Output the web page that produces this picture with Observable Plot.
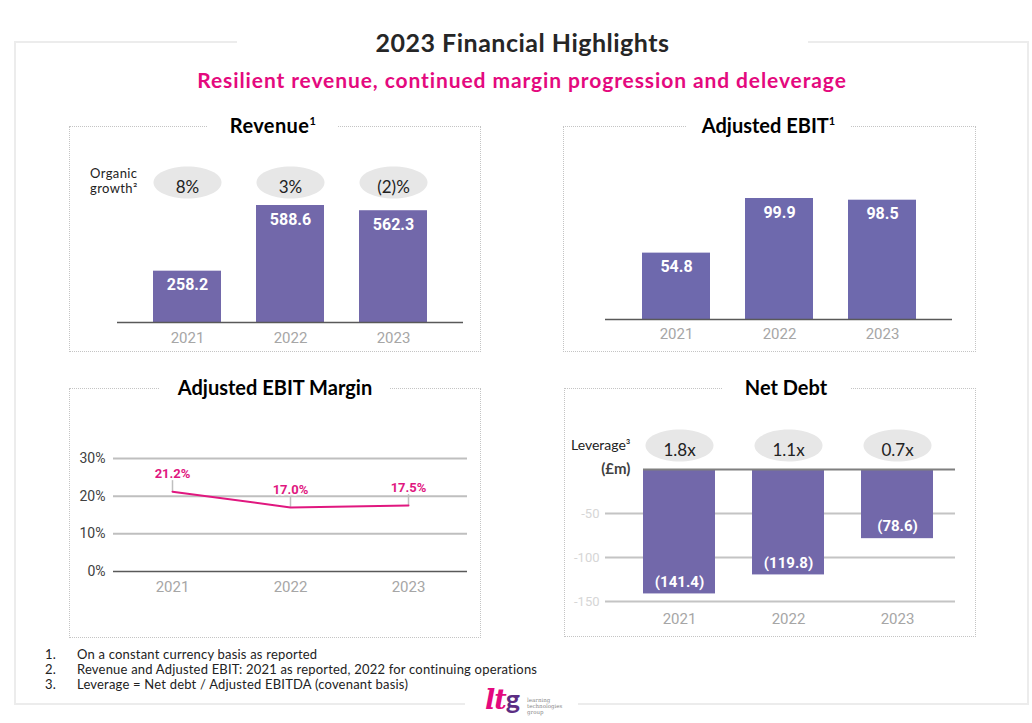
<!DOCTYPE html>
<html>
<head>
<meta charset="utf-8">
<script src="https://cdn.jsdelivr.net/npm/d3@7"></script>
<script src="https://cdn.jsdelivr.net/npm/@observablehq/plot@0.6"></script>
<style>
  body { margin: 0; background: #fff; }
  #page { position: relative; width: 1032px; height: 723px; overflow: hidden; font-family: Lato, "Noto Sans", sans-serif; color: #222; }
  .abs { position: absolute; }
  .frame { position: absolute; left: 14px; top: 41px; width: 1015px; height: 664px; box-sizing: border-box; border: 2px solid #ececec; }
  .panel { position: absolute; box-sizing: border-box; border: 1.5px dotted #c4c4c4; }
  .ptitle { position: absolute; background: #fff; text-align: center; font-weight: bold; font-size: 20px; color: #000; line-height: 24px; height: 24px; }
  .ptitle sup { font-size: 11px; vertical-align: 8px; line-height: 0; }
  .plot { position: absolute; }
  .plot svg { overflow: visible; }
  .note { position: absolute; font-size: 13px; line-height: 15px; color: #222; letter-spacing: 0.2px; white-space: nowrap; }
</style>
</head>
<body>
<div id="page">
  <div class="frame"></div>
  <div class="abs" style="left:237px;top:28px;width:571px;height:28px;background:#fff;text-align:center;font-weight:bold;font-size:25px;letter-spacing:0.5px;line-height:28px;color:#262626;">2023 Financial Highlights</div>
  <div class="abs" style="left:100px;top:67px;width:844px;height:26px;text-align:center;font-weight:bold;font-size:21px;letter-spacing:0.9px;line-height:26px;color:#e4097e;">Resilient revenue, continued margin progression and deleverage</div>

  <div class="panel" style="left:69px;top:126px;width:412px;height:226px;"></div>
  <div class="panel" style="left:563px;top:126px;width:413px;height:226px;"></div>
  <div class="panel" style="left:69px;top:388px;width:412px;height:250px;"></div>
  <div class="panel" style="left:564px;top:388px;width:412px;height:249px;"></div>

  <div class="ptitle" style="left:208px;top:113px;width:130px;letter-spacing:0.4px;">Revenue<sup>1</sup></div>
  <div class="ptitle" style="left:687px;top:113px;width:163px;">Adjusted EBIT<sup>1</sup></div>
  <div class="ptitle" style="left:160px;top:375px;width:230px;">Adjusted EBIT Margin</div>
  <div class="ptitle" style="left:722px;top:375px;width:128px;">Net Debt</div>

  <div id="rev" class="plot" style="left:69px;top:140px;"></div>
  <div id="ebit" class="plot" style="left:564px;top:140px;"></div>
  <div id="margin" class="plot" style="left:69px;top:400px;"></div>
  <div id="debt" class="plot" style="left:564px;top:400px;"></div>

  <div class="note" style="left:90px;top:166px;font-size:13px;line-height:14px;letter-spacing:0.4px;">Organic</div>
  <div class="note" style="left:90px;top:181px;font-size:13px;line-height:14px;letter-spacing:0.4px;">growth²</div>
  <div class="note" style="left:571px;top:437px;font-size:14px;letter-spacing:0;">Leverage³</div>

  <div id="notes"></div>

  <div class="abs" style="left:465px;top:700px;width:113px;height:8px;background:#fff;"></div>
  <div class="abs" style="left:485px;top:684px;font-family:'DejaVu Serif',serif;font-style:italic;font-weight:bold;font-size:27px;line-height:30px;color:#e4097e;letter-spacing:-1px;">lt<span style="font-family:Lato,sans-serif;font-style:normal;color:#5c2d83;">g</span></div>
  <div class="abs" style="left:527px;top:697px;font-family:'DejaVu Serif',serif;font-size:5.5px;line-height:6px;color:#888;">learning<br>technologies<br>group</div>
</div>
<script>
// ---------- data ----------
const years = ["2021", "2022", "2023"];
const revenue = [258.2, 588.6, 562.3];
const organicGrowth = ["8%", "3%", "(2)%"];
const adjustedEbit = [54.8, 99.9, 98.5];
const ebitMargin = [21.2, 17.0, 17.5];
const netDebt = [-141.4, -119.8, -78.6];
const leverage = ["1.8x", "1.1x", "0.7x"];
const marginTicks = [0, 10, 20, 30];
const debtTicks = [-50, -100, -150];
const footnotes = [
  "On a constant currency basis as reported",
  "Revenue and Adjusted EBIT: 2021 as reported, 2022 for continuing operations",
  "Leverage = Net debt / Adjusted EBITDA (covenant basis)"
];

// ---------- helpers ----------
const ellipse = (rx, ry) => ({
  draw(ctx) {
    const k = 0.5523;
    ctx.moveTo(-rx, 0);
    ctx.bezierCurveTo(-rx, -ry * k, -rx * k, -ry, 0, -ry);
    ctx.bezierCurveTo(rx * k, -ry, rx, -ry * k, rx, 0);
    ctx.bezierCurveTo(rx, ry * k, rx * k, ry, 0, ry);
    ctx.bezierCurveTo(-rx * k, ry, -rx, ry * k, -rx, 0);
    ctx.closePath();
  }
});
const BAR = "#7268aa";
const YEAR_GRAY = "#a6a6a6";
const baseStyle = { fontFamily: "Roboto, sans-serif", background: "transparent", overflow: "visible" };

// ---------- Revenue ----------
const revData = years.map((y, i) => ({ year: y, value: revenue[i], growth: organicGrowth[i] }));
document.getElementById("rev").append(Plot.plot({
  width: 411, height: 210,
  marginLeft: 48, marginRight: 17, marginTop: 65, marginBottom: 28,
  style: baseStyle,
  x: { domain: years, range: [66, 376], paddingInner: 0.34, paddingOuter: 0.17, label: null },
  y: { domain: [0, d3.max(revenue)], axis: null },
  marks: [
    Plot.dot(revData, { x: "year", frameAnchor: "top", dy: -23, symbol: ellipse(34, 16), fill: "#e7e7e7", stroke: null }),
    Plot.text(revData, { x: "year", frameAnchor: "top", dy: -25, text: "growth", fontSize: 17, fill: "#222", fontFamily: "Lato, sans-serif" }),
    Plot.barY(revData, { x: "year", y: "value", fill: BAR }),
    Plot.text(revData, { x: "year", y: "value", dy: 14, text: d => d.value.toFixed(1), fill: "white", fontWeight: "bold", fontSize: 16 }),
    Plot.ruleY([0], { stroke: "#595959", strokeWidth: 1.5 }),
    Plot.axisX({ tickSize: 0, tickPadding: 10, fontSize: 15, color: YEAR_GRAY, label: null })
  ]
}));

// ---------- Adjusted EBIT ----------
const ebitData = years.map((y, i) => ({ year: y, value: adjustedEbit[i] }));
document.getElementById("ebit").append(Plot.plot({
  width: 411, height: 210,
  marginLeft: 41, marginRight: 23, marginTop: 58, marginBottom: 31,
  style: baseStyle,
  x: { domain: years, range: [59, 370], paddingInner: 0.34, paddingOuter: 0.17, label: null },
  y: { domain: [0, d3.max(adjustedEbit)], axis: null },
  marks: [
    Plot.barY(ebitData, { x: "year", y: "value", fill: "#6e69ad" }),
    Plot.text(ebitData, { x: "year", y: "value", dy: 14, text: d => d.value.toFixed(1), fill: "white", fontWeight: "bold", fontSize: 16 }),
    Plot.ruleY([0], { stroke: "#595959", strokeWidth: 1.5 }),
    Plot.axisX({ tickSize: 0, tickPadding: 9, fontSize: 15, color: YEAR_GRAY, label: null })
  ]
}));

// ---------- Adjusted EBIT Margin ----------
const marginData = years.map((y, i) => ({ year: y, value: ebitMargin[i] }));
const PINK = "#e0177f";
document.getElementById("margin").append(Plot.plot({
  width: 411, height: 236,
  marginLeft: 44, marginRight: 13, marginTop: 58, marginBottom: 65,
  style: baseStyle,
  x: { type: "point", domain: years, padding: 0.5, label: null },
  y: { domain: [0, 30], label: null },
  marks: [
    Plot.ruleY(marginTicks.filter(d => d !== 0), { stroke: "#bfbfbf", strokeWidth: 2 }),
    Plot.ruleY([0], { stroke: "#595959", strokeWidth: 1.5 }),
    Plot.axisY(marginTicks, { tickSize: 0, tickPadding: 8, tickFormat: d => d + "%", fontSize: 14, color: "#404040", label: null }),
    Plot.axisX({ tickSize: 0, tickPadding: 10, fontSize: 15, color: YEAR_GRAY, label: null }),
    Plot.ruleX(marginData, { x: "year", y1: "value", y2: "value", insetBottom: 11, stroke: "#bfbfbf", strokeWidth: 1.5 }),
    Plot.line(marginData, { x: "year", y: "value", stroke: PINK, strokeWidth: 2 }),
    Plot.text(marginData, { x: "year", y: "value", dy: -18, text: d => d.value.toFixed(1) + "%", fill: PINK, stroke: "white", strokeWidth: 3, fontWeight: "bold", fontSize: 13 })
  ]
}));

// ---------- Net Debt ----------
const debtData = years.map((y, i) => ({ year: y, value: netDebt[i], lev: leverage[i] }));
document.getElementById("debt").append(Plot.plot({
  width: 411, height: 236,
  marginLeft: 41, marginRight: 20, marginTop: 69, marginBottom: 35,
  style: baseStyle,
  x: { domain: years, range: [60.5, 387.5], paddingInner: 0.34, paddingOuter: 0.17, label: null },
  y: { domain: [-150, 0], label: null },
  marks: [
    Plot.ruleY(debtTicks, { stroke: "#c4c4c4", strokeWidth: 2 }),
    Plot.axisY(debtTicks, { tickSize: 0, tickPadding: 6, tickFormat: d => String(d), fontSize: 13, color: "#d6d6d6", label: null }),
    Plot.text([0], { y: d => d, text: () => "(£m)", frameAnchor: "left", textAnchor: "end", dx: 25, fontWeight: "bold", fontSize: 15, fill: "#404040", fontFamily: "Lato, sans-serif" }),
    Plot.dot(debtData, { x: "year", frameAnchor: "top", dy: -24, symbol: ellipse(34, 16), fill: "#e7e7e7", stroke: null }),
    Plot.text(debtData, { x: "year", frameAnchor: "top", dy: -26, text: "lev", fontSize: 17, fill: "#222", fontFamily: "Lato, sans-serif" }),
    Plot.barY(debtData, { x: "year", y: "value", fill: BAR }),
    Plot.ruleY([0], { stroke: "#7f7f7f", strokeWidth: 2, insetLeft: 38 }),
    Plot.text(debtData, { x: "year", y: "value", dy: -12, text: d => `(${(-d.value).toFixed(1)})`, fill: "white", fontWeight: "bold", fontSize: 15 }),
    Plot.axisX({ tickSize: 0, tickPadding: 12, fontSize: 15, color: YEAR_GRAY, label: null })
  ]
}));

// ---------- Footnotes ----------
const notes = document.getElementById("notes");
footnotes.forEach((t, i) => {
  const n = document.createElement("div");
  n.className = "note";
  n.style.left = "45px"; n.style.top = (647 + i * 15) + "px";
  n.textContent = (i + 1) + ".";
  const s = document.createElement("div");
  s.className = "note";
  s.style.left = "77px"; s.style.top = (647 + i * 15) + "px";
  s.textContent = t;
  notes.append(n, s);
});
</script>
</body>
</html>
